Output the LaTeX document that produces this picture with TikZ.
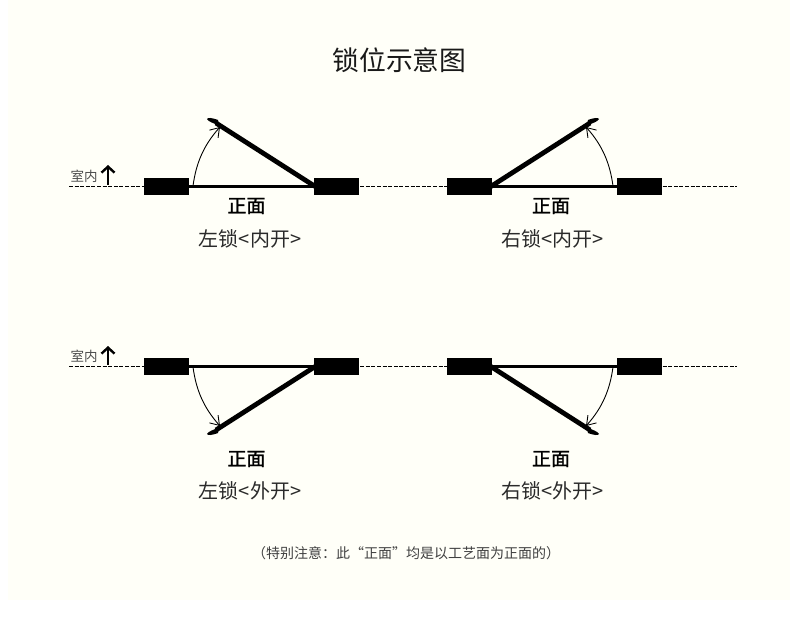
\documentclass[tikz,border=0pt]{standalone}
\usepackage{fontspec}
\setmainfont{Noto Sans CJK SC}
\usetikzlibrary{arrows.meta}
\definecolor{cream}{HTML}{FFFFF8}
\definecolor{txt}{HTML}{2A2A2A}
\tikzset{
  jamb/.style={fill=black,draw=none,minimum width=45pt,minimum height=17pt,inner sep=0pt},
  wall/.style={line width=0.8pt,dash pattern=on 4pt off 1.6pt},
  frontline/.style={line width=2.2pt},
  leaf/.style={line width=4.8pt},
  tip/.style={fill=black,draw=none},
  swing/.style={line width=0.9pt,-{Straight Barb[length=8.5pt,width=11.5pt,line width=0.9pt]}},
  up/.style={line width=2.6pt,-{Straight Barb[length=6pt,width=13pt,line width=2.4pt]}},
  lbl/.style={inner sep=0pt,text=txt,font=\fontsize{20}{20}\selectfont},
  front/.style={inner sep=0pt,text=black,font=\fontsize{19}{19}\selectfont\addfontfeature{FakeBold=1.2}},
  room/.style={inner sep=0pt,text=black!70,font=\fontsize{13.5}{14}\selectfont},
  ttl/.style={inner sep=0pt,text=black!90,font=\fontsize{26.8}{27}\selectfont},
  note/.style={inner sep=0pt,text=black!75,font=\fontsize{14}{14}\selectfont}
}
\begin{document}
\begin{tikzpicture}[x=1pt,y=-1pt]
\useasboundingbox (0,0) rectangle (790,623);
\fill[white] (0,0) rectangle (790,623);
\fill[cream] (8,0) rectangle (790,600);
\node[ttl] (title) at (399.5,60) {锁位示意图};

\coordinate (wa1) at (69,186.5); \coordinate (wa2) at (737,186.5);
\coordinate (wb1) at (69,366.5); \coordinate (wb2) at (737,366.5);
\draw[wall] (wa1) -- (wa2);
\draw[wall] (wb1) -- (wb2);

\node[jamb] (a1) at (166.5,186.5) {};
\node[jamb] (a2) at (336.5,186.5) {};
\node[jamb] (b1) at (469.5,186.5) {};
\node[jamb] (b2) at (639.5,186.5) {};
\node[jamb] (c1) at (166.5,366.5) {};
\node[jamb] (c2) at (336.5,366.5) {};
\node[jamb] (d1) at (469.5,366.5) {};
\node[jamb] (d2) at (639.5,366.5) {};

\draw[frontline] (a1) -- (a2);
\draw[frontline] (b1) -- (b2);
\draw[frontline] (c1) -- (c2);
\draw[frontline] (d1) -- (d2);

\coordinate (ah) at (316,187); \coordinate (at) at (216,123);
\coordinate (bh) at (490,187); \coordinate (bt) at (590,123);
\coordinate (ch) at (316,366); \coordinate (ct) at (216,430);
\coordinate (dh) at (490,366); \coordinate (dt) at (590,430);
\draw[leaf] (ah) -- (at);
\draw[leaf] (bh) -- (bt);
\draw[leaf] (ch) -- (ct);
\draw[leaf] (dh) -- (dt);
\fill[tip] (219,125.5) .. controls (213,123) and (208,121.5) .. (207,119) .. controls (208,117.5) and (211,117.5) .. (218,120) -- cycle;
\fill[tip] (587,125.5) .. controls (593,123) and (598,121.5) .. (599,119) .. controls (598,117.5) and (595,117.5) .. (588,120) -- cycle;
\fill[tip] (219,427.5) .. controls (213,430) and (208,431.5) .. (207,434) .. controls (208,435.5) and (211,435.5) .. (218,433) -- cycle;
\fill[tip] (587,427.5) .. controls (593,430) and (598,431.5) .. (599,434) .. controls (598,435.5) and (595,435.5) .. (588,433) -- cycle;

\coordinate (as) at (193,186); \coordinate (ae) at (220,127);
\coordinate (bs) at (613,186); \coordinate (be) at (586,127);
\coordinate (cs) at (193,367); \coordinate (ce) at (220,426);
\coordinate (ds) at (613,367); \coordinate (de) at (586,426);
\draw[swing] (as) .. controls (196,164) and (203,146) .. (ae);
\draw[swing] (bs) .. controls (610,164) and (603,146) .. (be);
\draw[swing] (cs) .. controls (196,389) and (203,407) .. (ce);
\draw[swing] (ds) .. controls (610,389) and (603,407) .. (de);

\node[front] (f1) at (246.5,206) {正面};
\node[front] (f2) at (551,206) {正面};
\node[front] (f3) at (246.5,459) {正面};
\node[front] (f4) at (551,459) {正面};
\node[lbl] (l1) at (250,238.5) {左锁<内开>};
\node[lbl] (l2) at (552.5,238.5) {右锁<内开>};
\node[lbl] (l3) at (250,490.5) {左锁<外开>};
\node[lbl] (l4) at (552.5,490.5) {右锁<外开>};

\node[room] (r1) at (84,176) {室内};
\node[room] (r2) at (84,356) {室内};
\coordinate (u1s) at (108,185); \coordinate (u1e) at (108,165);
\coordinate (u2s) at (108,365); \coordinate (u2e) at (108,346);
\draw[up] (u1s) -- (u1e);
\draw[up] (u2s) -- (u2e);

\node[note] (n) at (406,553) {（特别注意：此“正面”均是以工艺面为正面的）};
\end{tikzpicture}
\end{document}
